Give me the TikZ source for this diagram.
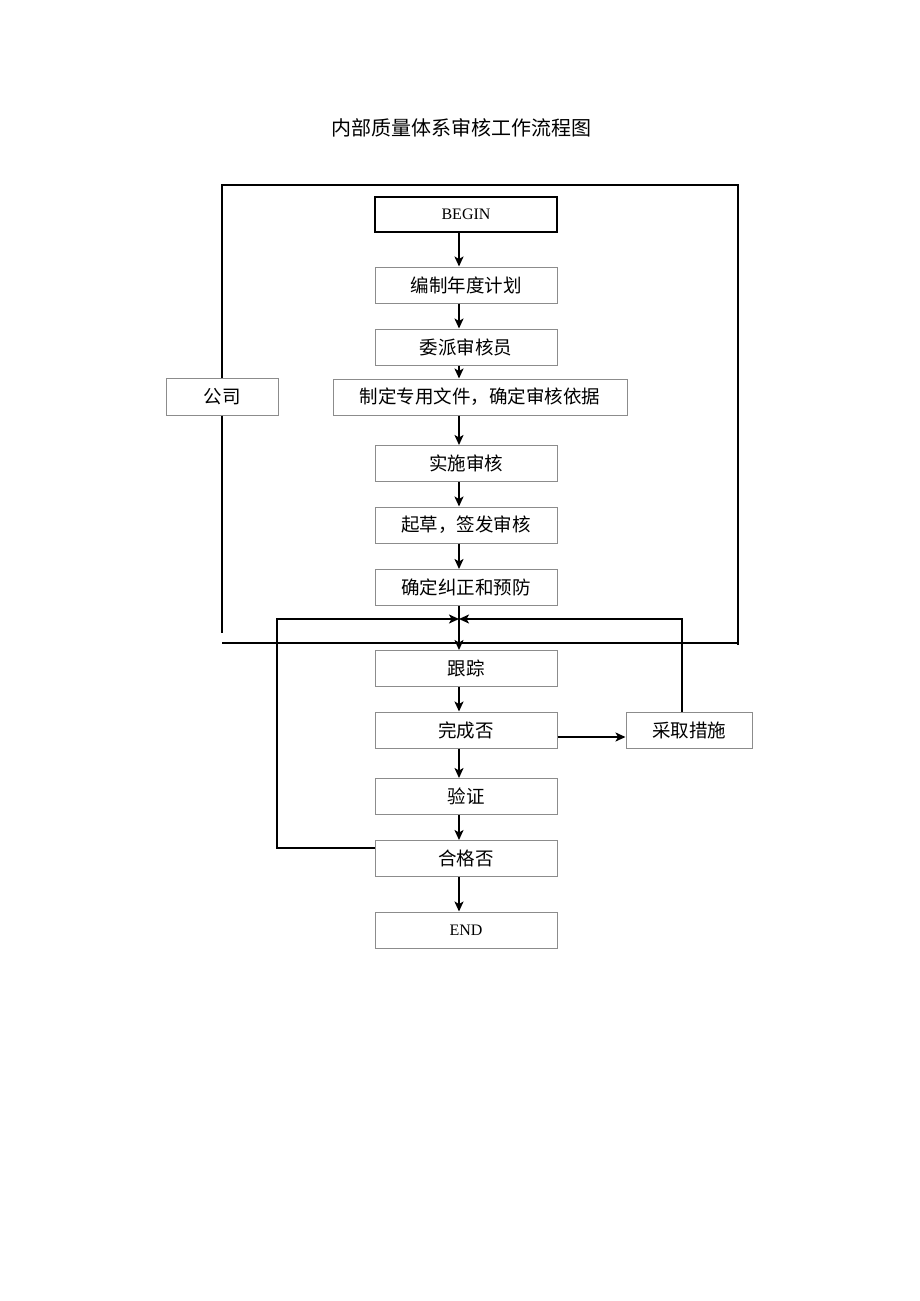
\documentclass[tikz,border=0pt]{standalone}
\usepackage{fontspec}
\setmainfont{Liberation Serif}
\newfontfamily\cjk{Noto Sans CJK SC}
\usetikzlibrary{arrows.meta}
\definecolor{boxgray}{RGB}{140,140,140}
\begin{document}
\begin{tikzpicture}[x=1pt,y=-1pt,
  box/.style={draw=boxgray, line width=1pt, minimum width=182pt, minimum height=36pt, inner sep=0pt, font=\cjk\fontsize{18.5}{18.5}\selectfont},
  latin/.style={font=\fontsize{16}{16}\selectfont},
  arr/.style={-{Stealth[length=10pt,width=9pt,inset=2.5pt]}, line width=1.7pt},
  frame/.style={line width=1.8pt}]
\useasboundingbox (0,0) rectangle (920,1301);
\node[font=\cjk\fontsize{20}{20}\selectfont] (title) at (461,128) {内部质量体系审核工作流程图};

\node[box, draw=black, line width=1.5pt, minimum height=35pt, latin] (begin) at (466,214.5) {BEGIN};
\node[box] (plan) at (466,285) {编制年度计划};
\node[box] (assign) at (466,347) {委派审核员};
\node[box, minimum width=294pt] (docs) at (480,397) {制定专用文件，确定审核依据};
\node[box, minimum width=112pt, minimum height=37pt] (company) at (222,396.5) {公司};
\node[box] (impl) at (466,463.5) {实施审核};
\node[box] (draft) at (466,525) {起草，签发审核};
\node[box] (corr) at (466,587.5) {确定纠正和预防};
\node[box] (track) at (466,668.5) {跟踪};
\node[box] (done) at (466,730) {完成否};
\node[box, minimum width=126pt] (measure) at (689,730) {采取措施};
\node[box] (verify) at (466,796.5) {验证};
\node[box] (qual) at (466,858.5) {合格否};
\node[box, latin] (end) at (466,930) {END};

\coordinate (ax) at (459,0);
\coordinate (j) at (459,619);
\coordinate (rx) at (682,0);
\coordinate (lx) at (277,0);

% outer frame
\draw[frame] (company.north) -- (222,185) -- (738,185) -- (738,645);
\draw[frame] (company.south) -- (222,633);
\draw[frame] (222,643) -- (738,643);

% main flow
\draw[arr] (begin.south -| ax) -- (plan.north -| ax);
\draw[arr] (plan.south -| ax) -- (assign.north -| ax);
\draw[arr] (assign.south -| ax) -- (docs.north -| ax);
\draw[arr] (docs.south -| ax) -- (impl.north -| ax);
\draw[arr] (impl.south -| ax) -- (draft.north -| ax);
\draw[arr] (draft.south -| ax) -- (corr.north -| ax);
\draw[arr] (corr.south -| ax) -- (track.north -| ax);
\draw[arr] (track.south -| ax) -- (done.north -| ax);
\draw[arr] (done.south -| ax) -- (verify.north -| ax);
\draw[arr] (verify.south -| ax) -- (qual.north -| ax);
\draw[arr] (qual.south -| ax) -- (end.north -| ax);

% branches
\draw[arr] ([yshift=-7pt]done.east) -- ([yshift=-7pt]measure.west);
\draw[arr] (measure.north -| rx) -- (rx |- j) -- (j);
\draw[arr] ([yshift=10.5pt]qual.west) -- ([yshift=10.5pt]qual.west -| lx) -- (lx |- j) -- (j);
\end{tikzpicture}
\end{document}
